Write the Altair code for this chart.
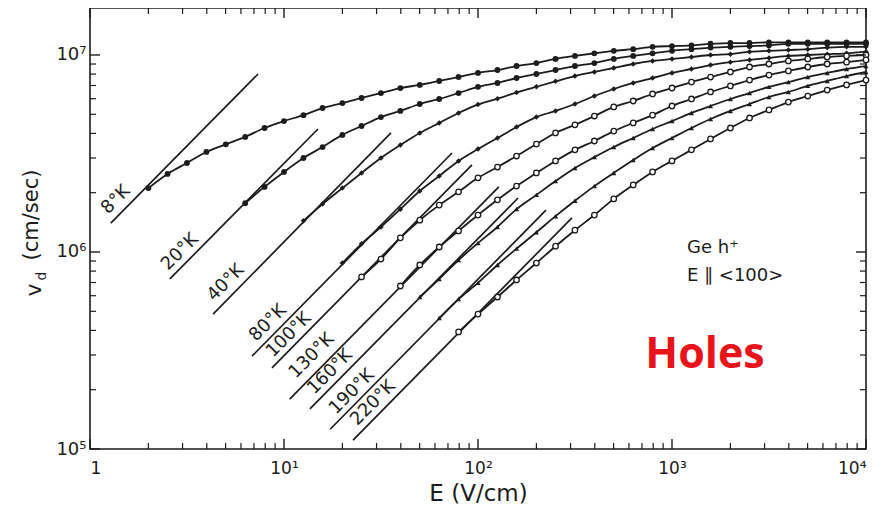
import altair as alt
import pandas as pd

# ---------------- data ----------------
E_GRID = [1.0, 1.26, 1.58, 2.0, 2.51, 3.16, 3.98, 5.01, 6.31, 7.94,
          10, 12.6, 15.8, 20.0, 25.1, 31.6, 39.8, 50.1, 63.1, 79.4,
          100, 126, 158, 200, 251, 316, 398, 501, 631, 794,
          1000, 1260, 1580, 2000, 2510, 3160, 3980, 5010, 6310, 7940, 10000]

TEMPS = ["8°K", "20°K", "40°K", "80°K", "100°K", "130°K", "160°K", "190°K", "220°K"]
START_INDEX = [3, 8, 11, 13, 14, 16, 17, 18, 19]
MARKER = ["filled", "filled", "small", "small", "open", "open", "tri", "tri", "open"]

# drift velocity in units of 1e6 cm/s
V_8K = [2.11, 2.49, 2.83, 3.22, 3.52, 3.84, 4.26, 4.62, 4.95, 5.38, 5.70, 6.05, 6.41, 6.79,
        7.05, 7.38, 7.73, 8.11, 8.39, 8.79, 9.10, 9.55, 9.89, 10.2, 10.5, 10.7, 11.0, 11.1,
        11.2, 11.4, 11.5, 11.5, 11.6, 11.6, 11.6, 11.6, 11.6, 11.6]
V_20K = [1.77, 2.14, 2.55, 3.00, 3.41, 3.93, 4.36, 4.84, 5.20, 5.64, 5.98, 6.41, 6.89, 7.21,
         7.64, 8.01, 8.39, 8.79, 9.10, 9.55, 9.89, 10.2, 10.5, 10.7, 10.9, 11.0, 11.1, 11.2,
         11.4, 11.4, 11.4, 11.4, 11.4]
V_40K = [1.44, 1.75, 2.11, 2.52, 3.00, 3.49, 4.02, 4.52, 5.08, 5.60, 6.00, 6.45, 6.90, 7.35,
         7.82, 8.20, 8.59, 9.00, 9.33, 9.55, 9.77, 10.0, 10.1, 10.4, 10.5, 10.6, 10.7, 10.9,
         11.0, 11.0]
V_80K = [0.879, 1.10, 1.34, 1.65, 2.04, 2.43, 2.90, 3.33, 3.79, 4.31, 4.84, 5.20, 5.64, 6.19,
         6.72, 7.21, 7.64, 8.11, 8.49, 8.89, 9.20, 9.44, 9.66, 9.89, 10.0, 10.1, 10.2, 10.4]
V_100K = [0.747, 0.921, 1.18, 1.45, 1.73, 2.02, 2.38, 2.70, 3.07, 3.53, 4.02, 4.42, 4.90, 5.45,
          5.84, 6.34, 6.80, 7.29, 7.73, 8.20, 8.69, 9.00, 9.33, 9.55, 9.77, 9.89, 10.0]
V_130K = [0.672, 0.859, 1.06, 1.28, 1.54, 1.84, 2.16, 2.52, 2.90, 3.30, 3.66, 4.11, 4.52, 4.95,
          5.51, 5.98, 6.49, 6.97, 7.46, 7.91, 8.30, 8.69, 9.00, 9.20, 9.44]
V_160K = [0.591, 0.729, 0.910, 1.11, 1.34, 1.65, 1.95, 2.29, 2.67, 3.03, 3.41, 3.79, 4.21, 4.62,
          5.08, 5.51, 5.98, 6.41, 6.89, 7.29, 7.73, 8.11, 8.49, 8.79]
V_190K = [0.462, 0.577, 0.697, 0.859, 1.04, 1.26, 1.52, 1.82, 2.16, 2.52, 2.93, 3.37, 3.79, 4.26,
          4.73, 5.20, 5.64, 6.12, 6.49, 6.97, 7.38, 7.82, 8.20]
V_220K = [0.393, 0.484, 0.591, 0.721, 0.879, 1.07, 1.29, 1.54, 1.86, 2.19, 2.55, 2.90, 3.30, 3.75,
          4.26, 4.79, 5.26, 5.77, 6.19, 6.64, 7.05, 7.46]
V_LISTS = [V_8K, V_20K, V_40K, V_80K, V_100K, V_130K, V_160K, V_190K, V_220K]

# ohmic (low-field) straight lines: end points (E, v)
OHM_E0 = [1.28, 2.58, 4.31, 6.84, 8.67, 10.7, 13.6, 17.3, 22.7]
OHM_V0 = [1.40e6, 7.30e5, 4.84e5, 2.96e5, 2.58e5, 1.79e5, 1.60e5, 1.26e5, 1.11e5]
OHM_E1 = [7.35, 14.97, 35.6, 73.5, 93.1, 128, 161, 224, 305]
OHM_V1 = [8.01e6, 4.21e6, 4.02e6, 3.18e6, 2.77e6, 2.14e6, 1.88e6, 1.63e6, 1.49e6]

# temperature labels (centre positions)
LABEL_E = [1.36, 2.91, 5.02, 8.27, 10.6, 13.9, 17.3, 22.4, 28.8]
LABEL_V = [1.84e6, 1.0e6, 6.97e5, 4.36e5, 3.79e5, 2.97e5, 2.46e5, 1.95e5, 1.71e5]

X_MAJOR = [1, 10, 100, 1000, 10000]
X_LABELS = ["1", "10¹", "10²", "10³", "10⁴"]
Y_MAJOR = [1e5, 1e6, 1e7]
Y_LABELS = ["10⁵", "10⁶", "10⁷"]
MINOR_MULT = [2, 3, 4, 5, 6, 7, 8, 9]

NOTE_TEXT = ["Ge  h⁺", "E ∥ <100>"]
NOTE_E = [1195, 1195]
NOTE_V = [9.89e5, 7.13e5]
BIG_TEXT = "Holes"
BIG_E = 1479
BIG_V = 2.58e5

# ---------------- tables ----------------
rows = []
for name, start, vals, mk in zip(TEMPS, START_INDEX, V_LISTS, MARKER):
    for i, v in enumerate(vals):
        rows.append({"T": name, "E": E_GRID[start + i], "v": v * 1e6, "mk": mk})
curves = pd.DataFrame(rows)

ohm_rows = []
for name, e0, v0, e1, v1 in zip(TEMPS, OHM_E0, OHM_V0, OHM_E1, OHM_V1):
    ohm_rows.append({"T": name, "E": e0, "v": v0})
    ohm_rows.append({"T": name, "E": e1, "v": v1})
ohm = pd.DataFrame(ohm_rows)

labels = pd.DataFrame({"T": TEMPS, "E": LABEL_E, "v": LABEL_V})
notes = pd.DataFrame({"t": NOTE_TEXT, "E": NOTE_E, "v": NOTE_V})
big = pd.DataFrame({"t": [BIG_TEXT], "E": [BIG_E], "v": [BIG_V]})

x_minor = [m * d for d in X_MAJOR[:-1] for m in MINOR_MULT]
y_minor = [m * d for d in Y_MAJOR[:-1] for m in MINOR_MULT]
xmaj = pd.DataFrame({"E": X_MAJOR})
xmin = pd.DataFrame({"E": x_minor})
ymaj = pd.DataFrame({"v": Y_MAJOR})
ymin = pd.DataFrame({"v": y_minor})

# ---------------- layout ----------------
W, H = 776, 441
FONT = "DejaVu Sans"
INK = "#1c1c1c"


def expr(values, texts):
    s = "''"
    for val, t in reversed(list(zip(values, texts))):
        s = f"(abs(datum.value - {val}) < {val}*0.01 ? '{t}' : {s})"
    return s


xscale = alt.Scale(type="log", domain=[1, 10000], nice=False)
yscale = alt.Scale(type="log", domain=[1e5, 1.732e7], nice=False)

X = alt.X("E:Q", scale=xscale, axis=alt.Axis(
    values=X_MAJOR, labelExpr=expr(X_MAJOR, X_LABELS), ticks=False, domain=False, grid=False,
    labelFontSize=17, labelFont=FONT, labelColor=INK, labelPadding=11,
    title="E (V/cm)", titleFont=FONT, titleFontSize=23, titleFontWeight="normal",
    titleColor=INK, titlePadding=6))
Y = alt.Y("v:Q", scale=yscale, axis=alt.Axis(
    values=Y_MAJOR, labelExpr=expr(Y_MAJOR, Y_LABELS), ticks=False, domain=False, grid=False,
    labelFontSize=18, labelFont=FONT, labelColor=INK, labelPadding=4, title=None))

line_layer = alt.Chart(curves).mark_line(interpolate="monotone", color=INK, strokeWidth=1.8, clip=True).encode(
    x=X, y=Y, detail="T:N")
ohm_layer = alt.Chart(ohm).mark_line(color=INK, strokeWidth=1.7, clip=True).encode(x=X, y=Y, detail="T:N")

filled_pts = alt.Chart(curves).transform_filter("datum.mk == 'filled'").mark_point(
    shape="circle", filled=True, size=34, color=INK, opacity=1).encode(x=X, y=Y)
small_pts = alt.Chart(curves).transform_filter("datum.mk == 'small'").mark_point(
    shape="diamond", filled=True, size=30, color=INK, opacity=1).encode(x=X, y=Y)
open_pts = alt.Chart(curves).transform_filter("datum.mk == 'open'").mark_point(
    shape="circle", filled=True, size=30, fill="white", stroke=INK, strokeWidth=1.3, opacity=1).encode(x=X, y=Y)
tri_pts = alt.Chart(curves).transform_filter("datum.mk == 'tri'").mark_point(
    shape="triangle-up", filled=True, size=26, color=INK, opacity=1).encode(x=X, y=Y)

label_layer = alt.Chart(labels).mark_text(
    angle=315, font=FONT, fontSize=18, color=INK, align="center", baseline="middle").encode(
    x=X, y=Y, text="T:N")

note_layer = alt.Chart(notes).mark_text(
    font=FONT, fontSize=18, color=INK, align="left", baseline="alphabetic").encode(x=X, y=Y, text="t:N")
big_layer = alt.Chart(big).mark_text(
    font="Open Sans", fontSize=43, fontWeight="bold", color="#e8131b", align="center",
    baseline="alphabetic").encode(x=X, y=Y, text="t:N")

# inward ticks on all four sides
TM, TN = 10, 6
tick_layers = [
    alt.Chart(xmaj).mark_rule(color=INK, strokeWidth=1.4).encode(x=X, y=alt.value(H), y2=alt.value(H - TM)),
    alt.Chart(xmin).mark_rule(color=INK, strokeWidth=1.2).encode(x=X, y=alt.value(H), y2=alt.value(H - TN)),
    alt.Chart(xmaj).mark_rule(color=INK, strokeWidth=1.4).encode(x=X, y=alt.value(0), y2=alt.value(TM)),
    alt.Chart(xmin).mark_rule(color=INK, strokeWidth=1.2).encode(x=X, y=alt.value(0), y2=alt.value(TN)),
    alt.Chart(ymaj).mark_rule(color=INK, strokeWidth=1.4).encode(y=Y, x=alt.value(0), x2=alt.value(TM)),
    alt.Chart(ymin).mark_rule(color=INK, strokeWidth=1.2).encode(y=Y, x=alt.value(0), x2=alt.value(TN)),
    alt.Chart(ymaj).mark_rule(color=INK, strokeWidth=1.4).encode(y=Y, x=alt.value(W), x2=alt.value(W - TM)),
    alt.Chart(ymin).mark_rule(color=INK, strokeWidth=1.2).encode(y=Y, x=alt.value(W), x2=alt.value(W - TN)),
]

# y-axis title "v_d (cm/sec)" (rotated)
yt = pd.DataFrame({"t": ["(cm/sec)"]})
ytitle = alt.Chart(yt).mark_text(angle=270, font=FONT, fontSize=21, color=INK, align="center",
                                 baseline="middle").encode(x=alt.value(-58), y=alt.value(207), text="t:N")
vt = pd.DataFrame({"t": ["v"]})
vtitle = alt.Chart(vt).mark_text(angle=270, font=FONT, fontSize=22, color=INK, align="center",
                                 baseline="middle").encode(x=alt.value(-56), y=alt.value(282), text="t:N")
dt = pd.DataFrame({"t": ["d"]})
dtitle = alt.Chart(dt).mark_text(angle=270, font=FONT, fontSize=14, color=INK, align="center",
                                 baseline="middle").encode(x=alt.value(-48), y=alt.value(268), text="t:N")

chart = alt.layer(
    line_layer, ohm_layer, filled_pts, small_pts, open_pts, tri_pts, label_layer, note_layer, big_layer,
    *tick_layers, ytitle, vtitle, dtitle
).properties(
    width=W, height=H,
    autosize=alt.AutoSizeParams(type="none"),
    padding={"left": 82, "top": 0, "right": 15, "bottom": 66},
    background="white",
).configure_view(stroke=INK, strokeWidth=1.6)

chart.save("out.html", embed_options={"renderer": "svg", "actions": False})
